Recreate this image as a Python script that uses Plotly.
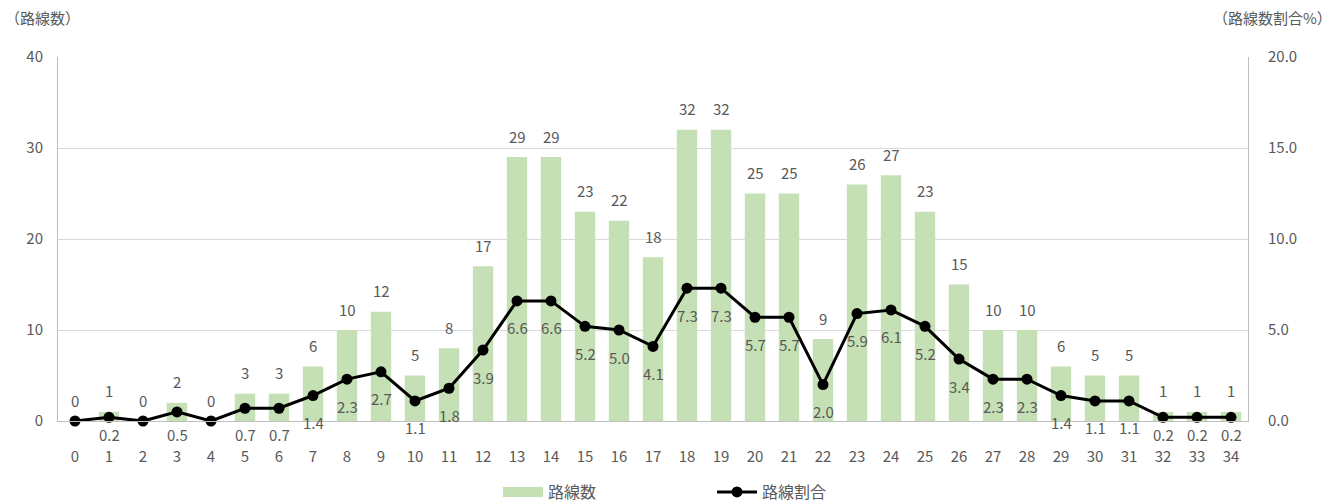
import plotly.graph_objects as go

categories = [str(i) for i in range(35)]
route_counts = [0, 1, 0, 2, 0, 3, 3, 6, 10, 12, 5, 8, 17, 29, 29, 23, 22, 18, 32, 32,
                25, 25, 9, 26, 27, 23, 15, 10, 10, 6, 5, 5, 1, 1, 1]
route_share = [0, 0.2, 0, 0.5, 0, 0.7, 0.7, 1.4, 2.3, 2.7, 1.1, 1.8, 3.9, 6.6, 6.6, 5.2,
               5.0, 4.1, 7.3, 7.3, 5.7, 5.7, 2.0, 5.9, 6.1, 5.2, 3.4, 2.3, 2.3, 1.4, 1.1,
               1.1, 0.2, 0.2, 0.2]
left_ticks = [0, 10, 20, 30, 40]
right_ticks = [0, 5, 10, 15, 20]

FONT = "Noto Sans CJK JP, Noto Sans, sans-serif"
GRAY = "#595959"
GREEN = "#c5e0b4"
FS = 15

W, H = 1340, 504
ML, MR, MT, MB = 58, 92, 57, 83
PLOT_H = H - MT - MB
Y2_MAX = 20

fig = go.Figure()
fig.add_trace(go.Bar(
    x=categories, y=route_counts, name="路線数", showlegend=False,
    marker=dict(color=GREEN, line=dict(width=0)),
    width=0.6,
))
# legend-only entry to mimic the wide rectangular swatch
fig.add_trace(go.Scatter(
    x=[None], y=[None], name="路線数", mode="lines",
    line=dict(color=GREEN, width=11),
))
fig.add_trace(go.Scatter(
    x=categories, y=route_share, name="路線割合", yaxis="y2",
    mode="lines+markers",
    line=dict(color="black", width=3),
    marker=dict(color="black", size=11),
    cliponaxis=False,
))

# bar value labels
for c, v in zip(categories, route_counts):
    fig.add_annotation(x=c, y=v, xref="x", yref="y", text=str(v), showarrow=False,
                       yanchor="middle", yshift=21,
                       font=dict(size=FS, color=GRAY, family=FONT))
# line value labels below points (zero values not shown), kept clear of the axis labels
for c, v in zip(categories, route_share):
    if v == 0:
        continue
    dist_to_axis = v / Y2_MAX * PLOT_H
    shift = min(27, dist_to_axis + 13)
    fig.add_annotation(x=c, y=v, xref="x", yref="y2", text=f"{v:.1f}", showarrow=False,
                       yanchor="middle", yshift=-shift,
                       font=dict(size=FS, color=GRAY, family=FONT))

fig.update_layout(
    width=W, height=H,
    margin=dict(l=ML, r=MR, t=MT, b=MB, autoexpand=False),
    paper_bgcolor="white", plot_bgcolor="white",
    font=dict(family=FONT, size=FS, color=GRAY),
    showlegend=True,
    legend=dict(orientation="h", x=(498 - ML) / 1190, xanchor="left",
                y=-71 / PLOT_H, yanchor="middle",
                font=dict(size=16, color=GRAY), entrywidth=159, traceorder="normal",
                itemwidth=40),
    xaxis=dict(type="category", range=[-0.5, 34.5], showgrid=False, showline=True,
               linecolor="#bfbfbf", linewidth=1, ticks="", ticklabelstandoff=22,
               tickfont=dict(size=FS, color=GRAY)),
    yaxis=dict(range=[0, 40], tickvals=left_ticks, showgrid=True, gridcolor="#d9d9d9",
               showline=True, linecolor="#bfbfbf", zeroline=False, ticks="",
               ticklabelstandoff=11, tickfont=dict(size=FS, color=GRAY)),
    yaxis2=dict(range=[0, Y2_MAX], tickvals=right_ticks, tickformat=".1f", overlaying="y",
                side="right", showgrid=False, showline=True, linecolor="#bfbfbf",
                zeroline=False, ticks="", ticklabelstandoff=16,
                tickfont=dict(size=FS, color=GRAY)),
)
fig.add_annotation(text="（路線数）", xref="paper", yref="paper", x=-55 / 1190, y=1 + 39 / PLOT_H,
                   xanchor="left", yanchor="middle", showarrow=False,
                   font=dict(size=FS, color=GRAY))
fig.add_annotation(text="（路線数割合%）", xref="paper", yref="paper", x=(1334 - ML) / 1190,
                   y=1 + 39 / PLOT_H, xanchor="right", yanchor="middle", showarrow=False,
                   font=dict(size=FS, color=GRAY))

fig.write_html("out.html", config={"displayModeBar": False},
               post_script="document.body.style.margin='0';")
